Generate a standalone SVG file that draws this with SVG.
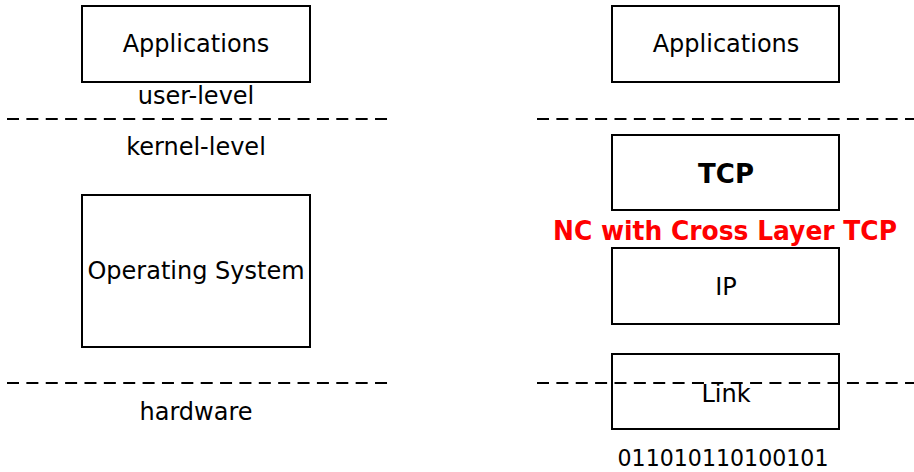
<svg xmlns="http://www.w3.org/2000/svg" width="914" height="472" viewBox="0 0 914 472">
  <style>
    .box { fill: #fff; stroke: #000; stroke-width: 2; }
    .sep { stroke: #000; stroke-width: 2; stroke-dasharray: 12 7.37; fill: none; }
    .lbl { font-family: "DejaVu Sans", "Liberation Sans", sans-serif; font-size: 24px; fill: #000; text-anchor: middle; }
    .bold { font-weight: bold; font-size: 26px; }
    .red { fill: #ff0000; }
    .bits { font-size: 23px; }
  </style>
  <rect width="914" height="472" fill="#fff"/>

  <!-- Layer separators -->
  <g id="separators">
    <line class="sep" x1="7" y1="119" x2="390" y2="119"/>
    <line class="sep" x1="7" y1="383" x2="390" y2="383"/>
    <line class="sep" x1="537" y1="119" x2="914" y2="119"/>
  </g>

  <!-- Traditional stack -->
  <g id="left-apps">
    <rect class="box" x="82" y="6" width="228" height="76"/>
    <text class="lbl" x="196" y="52">Applications</text>
  </g>
  <text class="lbl" x="196" y="104">user-level</text>
  <text class="lbl" x="196" y="155">kernel-level</text>
  <g id="left-os">
    <rect class="box" x="82" y="195" width="228" height="152"/>
    <text class="lbl" x="196" y="279">Operating System</text>
  </g>
  <text class="lbl" x="196" y="420">hardware</text>

  <!-- Cross-layer stack -->
  <g id="right-apps">
    <rect class="box" x="612" y="6" width="227" height="76"/>
    <text class="lbl" x="726" y="52">Applications</text>
  </g>
  <g id="right-tcp">
    <rect class="box" x="612" y="135" width="227" height="75"/>
    <text class="lbl bold" x="726" y="183">TCP</text>
  </g>
  <text class="lbl bold red" x="725" y="240" textLength="344" lengthAdjust="spacingAndGlyphs">NC with Cross Layer TCP</text>
  <g id="right-ip">
    <rect class="box" x="612" y="248" width="227" height="76"/>
    <text class="lbl" x="726" y="295">IP</text>
  </g>
  <g id="right-link">
    <rect class="box" x="612" y="354" width="227" height="75"/>
    <line class="sep" x1="537" y1="383" x2="914" y2="383"/>
    <text class="lbl" x="726" y="402">Link</text>
  </g>
  <text class="lbl bits" x="723" y="466" textLength="211" lengthAdjust="spacingAndGlyphs">011010110100101</text>
</svg>
